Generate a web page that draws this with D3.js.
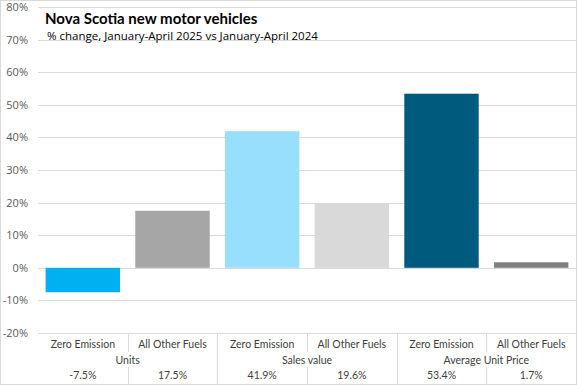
<!DOCTYPE html>
<html>
<head>
<meta charset="utf-8">
<script src="https://cdn.jsdelivr.net/npm/d3@7"></script>
<style>
  body { margin: 0; background: #fff; }
  svg { font-family: "Open Sans", sans-serif; }
</style>
</head>
<body>
<script>
// data
var categories = ["Zero Emission", "All Other Fuels", "Zero Emission", "All Other Fuels", "Zero Emission", "All Other Fuels"];
var groups = ["Units", "Sales value", "Average Unit Price"];
var values = [-7.5, 17.5, 41.9, 19.6, 53.4, 1.7];
var valueLabels = ["-7.5%", "17.5%", "41.9%", "19.6%", "53.4%", "1.7%"];
var colors = ["#00b0f0", "#a6a6a6", "#97dffc", "#d9d9d9", "#005a7d", "#808080"];
var yTicks = [-20, -10, 0, 10, 20, 30, 40, 50, 60, 70, 80];

var WIDTH = 577, HEIGHT = 385;
var margin = {left: 38, right: 1, top: 7, bottom: 52};

var svg = d3.select("body").append("svg").attr("width", WIDTH).attr("height", HEIGHT);

// outer border
svg.append("rect").attr("x", 0.5).attr("y", 0.5).attr("width", WIDTH - 1).attr("height", HEIGHT - 1)
    .attr("fill", "none").attr("stroke", "#d9d9d9");

var x = d3.scaleBand().domain(d3.range(categories.length))
    .range([margin.left, WIDTH - margin.right]).paddingInner(0.17).paddingOuter(0.085);
var y = d3.scaleLinear().domain([-20, 80]).range([HEIGHT - margin.bottom, margin.top]);

// gridlines
svg.append("g").selectAll("line").data(yTicks).enter().append("line")
    .attr("x1", margin.left).attr("x2", WIDTH - margin.right)
    .attr("y1", function(d) { return Math.round(y(d)) + 0.5; })
    .attr("y2", function(d) { return Math.round(y(d)) + 0.5; })
    .attr("stroke", "#d9d9d9");

// y labels
svg.append("g").selectAll("text").data(yTicks).enter().append("text")
    .attr("x", 28).attr("y", function(d) { return y(d) + 4; })
    .attr("text-anchor", "end").attr("font-size", "11px").attr("fill", "#595959")
    .text(function(d) { return d + "%"; });

// bars
svg.append("g").selectAll("rect").data(values).enter().append("rect")
    .attr("x", function(d, i) { return x(i); })
    .attr("width", x.bandwidth())
    .attr("y", function(d) { return y(Math.max(0, d)); })
    .attr("height", function(d) { return Math.abs(y(d) - y(0)); })
    .attr("fill", function(d, i) { return colors[i]; });

// table under the chart
var step = x.step();
var x0 = margin.left;
var tableTop = y(-20);
var row1 = tableTop + 15, row2 = tableTop + 31, row3 = tableTop + 46;

var seps = d3.range(1, categories.length);
// category and value rows get a line at every boundary
svg.append("g").selectAll("line").data(seps).enter().append("line")
    .attr("x1", function(d) { return Math.round(x0 + d * step) + 0.5; })
    .attr("x2", function(d) { return Math.round(x0 + d * step) + 0.5; })
    .attr("y1", tableTop).attr("y2", function(d) { return d % 2 == 0 ? HEIGHT : tableTop + 19; })
    .attr("stroke", "#d9d9d9");
svg.append("g").selectAll("line").data(seps.filter(function(d) { return d % 2 == 1; })).enter().append("line")
    .attr("x1", function(d) { return Math.round(x0 + d * step) + 0.5; })
    .attr("x2", function(d) { return Math.round(x0 + d * step) + 0.5; })
    .attr("y1", tableTop + 34).attr("y2", HEIGHT)
    .attr("stroke", "#d9d9d9");

var tableFont = "Lato, sans-serif";
svg.append("g").selectAll("text").data(categories).enter().append("text")
    .attr("x", function(d, i) { return x0 + (i + 0.5) * step; })
    .attr("y", row1).attr("text-anchor", "middle")
    .attr("font-family", tableFont).attr("font-size", "10.5px").attr("fill", "#404040")
    .text(function(d) { return d; });

svg.append("g").selectAll("text").data(groups).enter().append("text")
    .attr("x", function(d, i) { return x0 + (i * 2 + 1) * step; })
    .attr("y", row2).attr("text-anchor", "middle")
    .attr("font-family", tableFont).attr("font-size", "10.5px").attr("fill", "#404040")
    .text(function(d) { return d; });

svg.append("g").selectAll("text").data(valueLabels).enter().append("text")
    .attr("x", function(d, i) { return x0 + (i + 0.5) * step; })
    .attr("y", row3).attr("text-anchor", "middle")
    .attr("font-family", tableFont).attr("font-size", "10.5px").attr("fill", "#404040")
    .text(function(d) { return d; });

// title
svg.append("text").attr("x", 45).attr("y", 24)
    .attr("font-family", "Lato, sans-serif")
    .attr("font-size", "15px").attr("font-weight", "bold").attr("fill", "#000")
    .text("Nova Scotia new motor vehicles");
svg.append("text").attr("x", 47).attr("y", 40)
    .attr("font-size", "11.5px").attr("fill", "#000")
    .text("% change, January-April  2025 vs January-April 2024");
</script>
</body>
</html>
